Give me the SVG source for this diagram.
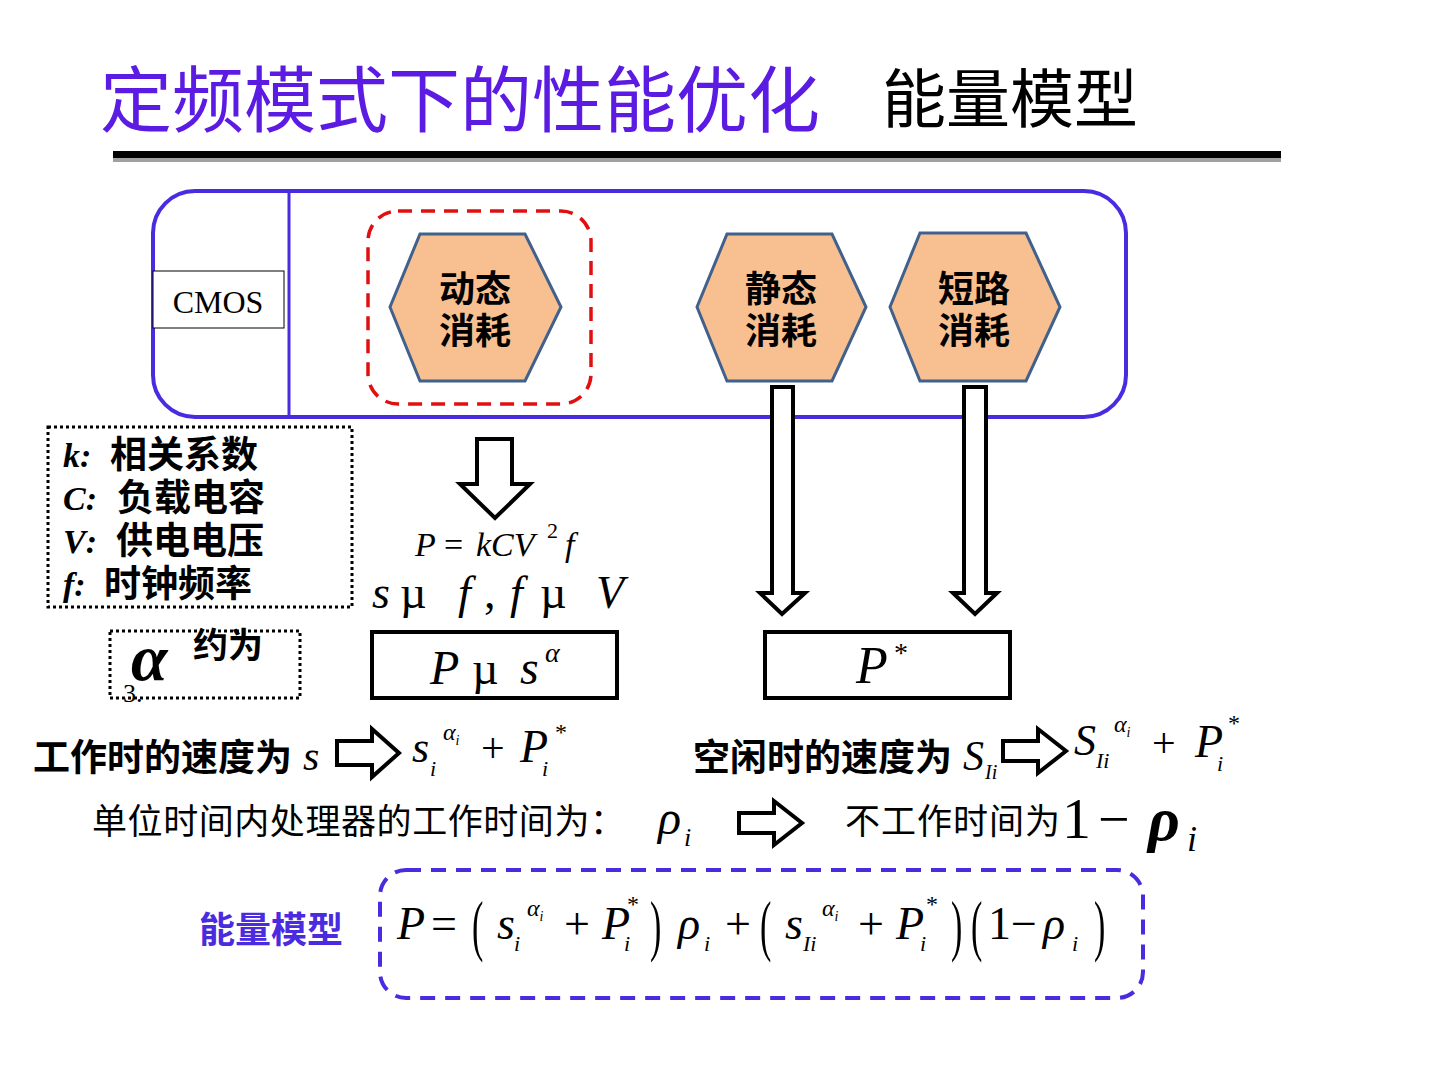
<svg xmlns="http://www.w3.org/2000/svg" width="1440" height="1080" viewBox="0 0 1440 1080">
<style>
.cjk{font-family:"Liberation Sans","Noto Sans CJK SC",sans-serif}
.b{font-weight:bold}
.m{font-family:"Liberation Serif","Noto Sans CJK SC",serif;font-style:italic}
.r{font-family:"Liberation Serif",serif}
.hex{fill:#F8C090;stroke:#41618C;stroke-width:3}
.blk{fill:#fff;stroke:#000;stroke-width:4;stroke-linejoin:miter}
.ht{font-family:"Liberation Sans","Noto Sans CJK SC",sans-serif;font-weight:bold;font-size:36px;text-anchor:middle}
</style>
<rect width="1440" height="1080" fill="#fff"/>
<g id="title">
<text x="100" y="126" class="cjk" font-size="72" fill="#5B1BE3" textLength="720">定频模式下的性能优化</text>
<text x="882" y="122" class="cjk" font-size="64" fill="#000" textLength="256">能量模型</text>
<rect x="113" y="157" width="1168" height="5" fill="#a0a0a0"/>
<rect x="113" y="151" width="1168" height="7" fill="#000"/>
</g>
<g id="cmos-frame">
<rect x="153" y="191" width="973" height="226" rx="42" fill="none" stroke="#4B2BE0" stroke-width="4"/>
<line x1="289" y1="193" x2="289" y2="415" stroke="#4B2BE0" stroke-width="3"/>
</g>
<g id="cmos">
<rect x="153" y="271" width="131" height="57" fill="#fff" stroke="#000" stroke-width="1"/>
<text x="218" y="313" class="r" font-size="32" text-anchor="middle">CMOS</text>
</g>
<g id="dyn-highlight">
<rect x="368" y="211" width="223" height="193" rx="30" fill="none" stroke="#E01010" stroke-width="3.5" stroke-dasharray="14 9"/>
</g>
<g id="dynamic">
<polygon class="hex" points="420,234 525,234 561,307 525,381 420,381 390,307"/>
<text x="475" y="302" class="ht">动态</text>
<text x="475" y="344" class="ht">消耗</text>
</g>
<g id="static">
<polygon class="hex" points="727,234 832,234 866,307 832,381 727,381 697,307"/>
<text x="781" y="302" class="ht">静态</text>
<text x="781" y="344" class="ht">消耗</text>
</g>
<g id="short">
<polygon class="hex" points="920,233 1026,233 1060,307 1026,381 920,381 890,307"/>
<text x="974" y="302" class="ht">短路</text>
<text x="974" y="344" class="ht">消耗</text>
</g>
<g id="connectors">
<polygon class="blk" points="477,439 512,439 512,484 530,484 495,518 460,484 477,484"/>
<polygon class="blk" stroke-width="3.5" points="772,387 793,387 793,593 805,593 782,614 760,593 772,593"/>
<polygon class="blk" stroke-width="3.5" points="964,387 986,387 986,593 997,593 975,614 953,593 964,593"/>
<polygon class="blk" points="337,741 372,741 372,729 399,753 372,777 372,765 337,765"/>
<polygon class="blk" points="1003,741 1038,741 1038,729 1066,751 1038,773 1038,761 1003,761"/>
<polygon class="blk" points="739,813 774,813 774,801 802,823 774,845 774,833 739,833"/>
</g>
<g id="legend">
<rect x="48" y="427" width="304" height="180" fill="none" stroke="#000" stroke-width="3" stroke-dasharray="3 3"/>
<text x="63" y="467" class="m b" font-size="34">k<tspan class="r">:</tspan></text>
<text x="110" y="468" class="cjk b" font-size="37">相关系数</text>
<text x="63" y="510" class="m b" font-size="34">C<tspan class="r">:</tspan></text>
<text x="117" y="511" class="cjk b" font-size="37">负载电容</text>
<text x="63" y="553" class="m b" font-size="34">V<tspan class="r">:</tspan></text>
<text x="116" y="554" class="cjk b" font-size="37">供电电压</text>
<text x="63" y="596" class="m b" font-size="34">f<tspan class="r">:</tspan></text>
<text x="104" y="597" class="cjk b" font-size="37">时钟频率</text>
</g>
<g id="alpha">
<rect x="110" y="631" width="190" height="67" fill="none" stroke="#000" stroke-width="3" stroke-dasharray="3 3"/>
<text x="123" y="702" class="r" font-size="26">3.</text>
<text x="131" y="680" class="m b" font-size="66">α</text>
<text x="193" y="658" class="cjk b" font-size="35">约为</text>
</g>
<g id="dyn-formula">
<text x="415" y="556" class="m" font-size="34">P</text>
<text x="444" y="556" class="r" font-size="34">=</text>
<text x="476" y="556" class="m" font-size="34">kCV</text>
<text x="547" y="538" class="r" font-size="22">2</text>
<text x="565" y="556" class="m" font-size="34">f</text>
<text x="372" y="608" class="m" font-size="46">s</text>
<text x="400" y="608" class="r" font-size="46">µ</text>
<text x="458" y="608" class="m" font-size="46">f</text>
<text x="484" y="608" class="r" font-size="46">,</text>
<text x="510" y="608" class="m" font-size="46">f</text>
<text x="540" y="608" class="r" font-size="46">µ</text>
<text x="596" y="608" class="m" font-size="46">V</text>
</g>
<g id="p-alpha">
<rect x="372" y="632" width="245" height="66" fill="#fff" stroke="#000" stroke-width="4"/>
<text x="430" y="684" class="m" font-size="48">P</text>
<text x="472" y="684" class="r" font-size="46">µ</text>
<text x="520" y="684" class="m" font-size="48">s</text>
<text x="545" y="662" class="m" font-size="28">α</text>
</g>
<g id="p-star">
<rect x="765" y="632" width="245" height="66" fill="#fff" stroke="#000" stroke-width="4"/>
<text x="856" y="683" class="m" font-size="52">P</text>
<text x="894" y="662" class="r" font-size="28">*</text>
</g>
<g id="work">
<text x="33" y="771" class="cjk b" font-size="37">工作时的速度为</text>
<text x="303" y="770" class="m" font-size="42">s</text>
<text x="412" y="762" class="m" font-size="44">s</text>
<text x="430" y="776" class="m" font-size="22">i</text>
<text x="443" y="740" class="m" font-size="24">α<tspan font-size="14" dy="5">i</tspan></text>
<text x="481" y="762" class="r" font-size="42">+</text>
<text x="520" y="762" class="m" font-size="46">P</text>
<text x="542" y="776" class="m" font-size="22">i</text>
<text x="555" y="740" class="r" font-size="24">*</text>
</g>
<g id="idle">
<text x="693" y="771" class="cjk b" font-size="37">空闲时的速度为</text>
<text x="963" y="770" class="m" font-size="42">S</text>
<text x="985" y="779" class="m" font-size="20">Ii</text>
<text x="1074" y="755" class="m" font-size="44">S</text>
<text x="1096" y="768" class="m" font-size="22">Ii</text>
<text x="1114" y="732" class="m" font-size="24">α<tspan font-size="14" dy="5">i</tspan></text>
<text x="1152" y="757" class="r" font-size="42">+</text>
<text x="1195" y="757" class="m" font-size="46">P</text>
<text x="1217" y="771" class="m" font-size="22">i</text>
<text x="1228" y="731" class="r" font-size="24">*</text>
</g>
<g id="ratio">
<text x="92" y="834" class="cjk" font-size="35" textLength="533">单位时间内处理器的工作时间为：</text>
<text x="658" y="834" class="m" font-size="48">ρ</text>
<text x="684" y="846" class="m" font-size="26">i</text>
<text x="845" y="834" class="cjk" font-size="35" textLength="215">不工作时间为</text>
<text x="1062" y="838" class="r" font-size="58">1</text>
<text x="1098" y="838" class="r" font-size="56">−</text>
<text x="1148" y="840" class="m b" font-size="62">ρ</text>
<text x="1187" y="851" class="m" font-size="36">i</text>
</g>
<g id="energy-model">
<rect x="380" y="870" width="763" height="128" rx="26" fill="none" stroke="#4B2BE0" stroke-width="4" stroke-dasharray="15 10"/>
<text x="199" y="943" class="cjk b" font-size="36" fill="#4B2BE0">能量模型</text>
<g class="m" font-size="46">
<text x="397" y="939">P</text>
<text x="431" y="939" class="r" font-style="normal">=</text>
<text x="472" y="948" class="r" font-style="normal" font-size="68" transform="translate(472 948) scale(0.5 1) translate(-472 -948)">(</text>
<text x="497" y="939">s</text>
<text x="514" y="951" font-size="22">i</text>
<text x="527" y="916" font-size="24">α<tspan font-size="14" dy="5">i</tspan></text>
<text x="564" y="939" class="r" font-style="normal">+</text>
<text x="602" y="939">P</text>
<text x="624" y="951" font-size="22">i</text>
<text x="627" y="912" class="r" font-style="normal" font-size="24">*</text>
<text x="650" y="948" class="r" font-style="normal" font-size="68" transform="translate(650 948) scale(0.5 1) translate(-650 -948)">)</text>
<text x="678" y="939">ρ</text>
<text x="704" y="951" font-size="22">i</text>
<text x="725" y="939" class="r" font-style="normal">+</text>
<text x="760" y="948" class="r" font-style="normal" font-size="68" transform="translate(760 948) scale(0.5 1) translate(-760 -948)">(</text>
<text x="785" y="939">s</text>
<text x="803" y="951" font-size="22">Ii</text>
<text x="822" y="916" font-size="24">α<tspan font-size="14" dy="5">i</tspan></text>
<text x="858" y="939" class="r" font-style="normal">+</text>
<text x="896" y="939">P</text>
<text x="920" y="951" font-size="22">i</text>
<text x="926" y="912" class="r" font-style="normal" font-size="24">*</text>
<text x="951" y="948" class="r" font-style="normal" font-size="68" transform="translate(951 948) scale(0.5 1) translate(-951 -948)">)</text>
<text x="971" y="948" class="r" font-style="normal" font-size="68" transform="translate(971 948) scale(0.5 1) translate(-971 -948)">(</text>
<text x="988" y="939" class="r" font-style="normal">1</text>
<text x="1011" y="939" class="r" font-style="normal">−</text>
<text x="1043" y="939">ρ</text>
<text x="1072" y="951" font-size="22">i</text>
<text x="1094" y="948" class="r" font-style="normal" font-size="68" transform="translate(1094 948) scale(0.5 1) translate(-1094 -948)">)</text>
</g>
</g>
</svg>
